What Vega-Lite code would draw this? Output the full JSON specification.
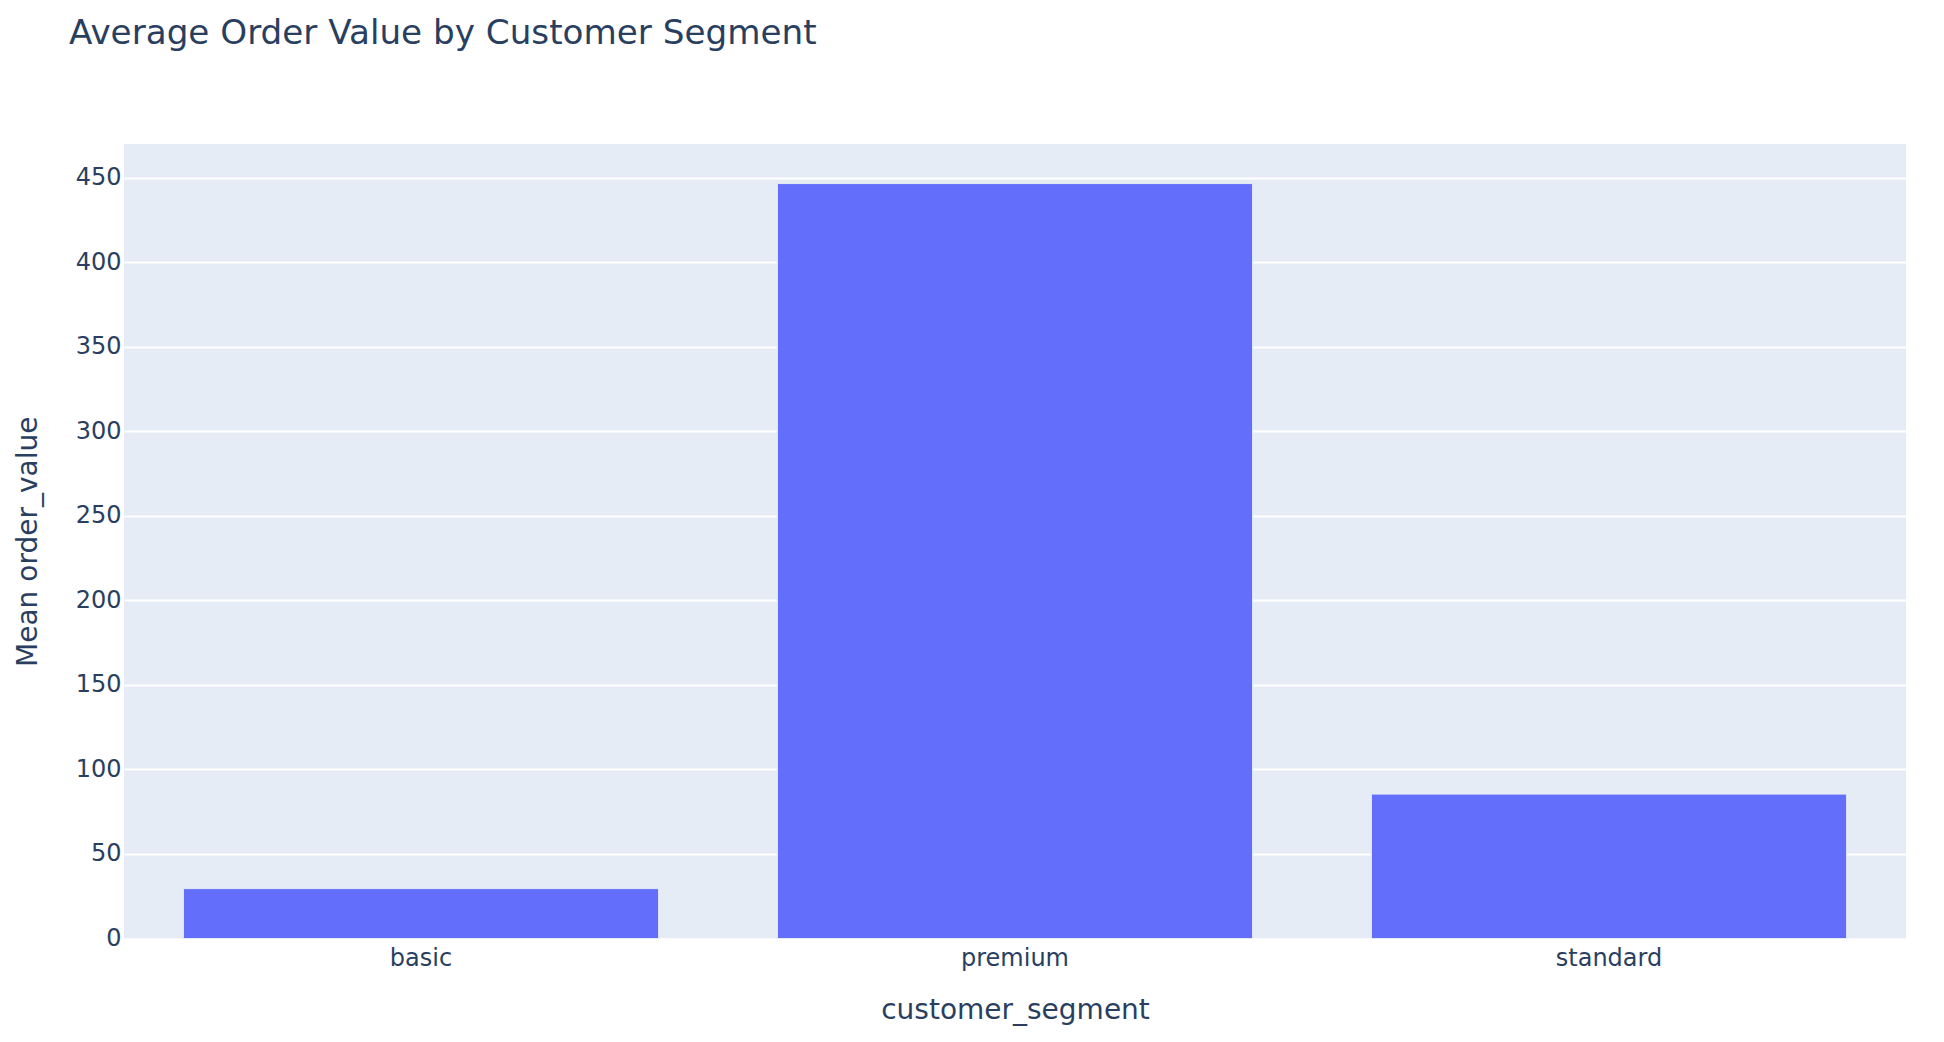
{
  "$schema": "https://vega.github.io/schema/vega-lite/v6.json",
  "width": 1782,
  "height": 794.5,
  "autosize": {"type": "none"},
  "padding": {"left": 124, "top": 144, "right": 38, "bottom": 103.5},
  "background": "white",
  "title": {
    "text": "Average Order Value by Customer Segment",
    "anchor": "start",
    "frame": "group",
    "dx": -55,
    "offset": 93,
    "font": "DejaVu Sans",
    "fontSize": 34.2,
    "fontWeight": "normal",
    "color": "#2a3f5f"
  },
  "data": {
    "values": [
      {"customer_segment": "basic", "order_value": 29.5},
      {"customer_segment": "premium", "order_value": 446.5},
      {"customer_segment": "standard", "order_value": 85.4}
    ]
  },
  "mark": {"type": "bar", "color": "#636efa", "stroke": "#E5ECF6", "strokeWidth": 1},
  "encoding": {
    "x": {
      "field": "customer_segment",
      "type": "nominal",
      "sort": null,
      "scale": {"paddingInner": 0.2, "paddingOuter": 0.1},
      "axis": {
        "title": "customer_segment",
        "labelAngle": 0,
        "domain": false,
        "ticks": false,
        "tickSize": 0,
        "grid": false,
        "labelPadding": 8,
        "labelFont": "DejaVu Sans",
        "labelFontSize": 24,
        "labelColor": "#2a3f5f",
        "titleFont": "DejaVu Sans",
        "titleFontSize": 28,
        "titleFontWeight": "normal",
        "titleColor": "#2a3f5f",
        "titleBaseline": "alphabetic",
        "titleY": 79.5
      }
    },
    "y": {
      "field": "order_value",
      "type": "quantitative",
      "scale": {"domain": [0, 469.9], "nice": false, "zero": true},
      "axis": {
        "title": "Mean order_value",
        "values": [0, 50, 100, 150, 200, 250, 300, 350, 400, 450],
        "domain": false,
        "ticks": false,
        "tickSize": 0,
        "grid": true,
        "gridColor": "white",
        "gridWidth": 2,
        "labelPadding": 3,
        "labelFont": "DejaVu Sans",
        "labelFontSize": 24,
        "labelColor": "#2a3f5f",
        "titleFont": "DejaVu Sans",
        "titleFontSize": 28,
        "titleFontWeight": "normal",
        "titleColor": "#2a3f5f",
        "titleBaseline": "alphabetic",
        "titleX": -88
      }
    }
  },
  "config": {
    "view": {"fill": "#E5ECF6", "stroke": null}
  }
}
